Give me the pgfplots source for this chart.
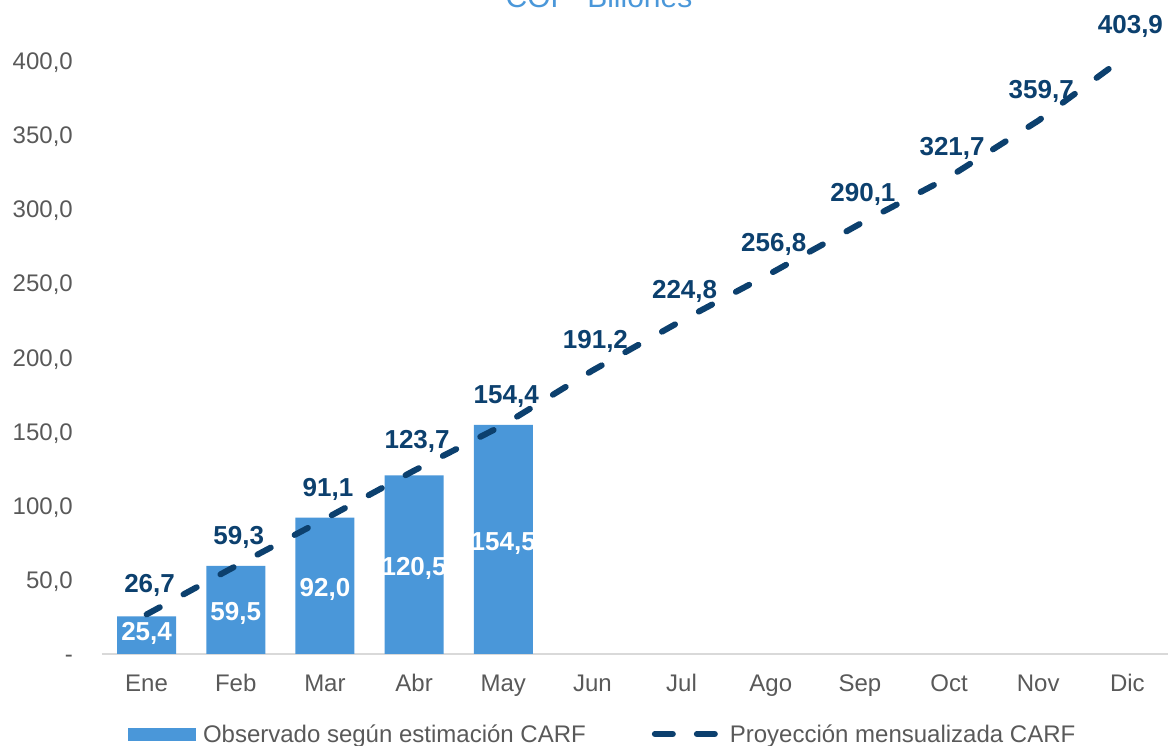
\documentclass[border=0pt]{standalone}
\usepackage{pgfplots}
\pgfplotsset{compat=1.18}
\usepackage{fontspec}
\setmainfont{Liberation Sans}
\definecolor{barblue}{HTML}{4A97D9}
\definecolor{navy}{HTML}{0C406E}
\definecolor{txtgray}{HTML}{595959}
\definecolor{axgray}{HTML}{D9D9D9}
\begin{document}
\begin{tikzpicture}
\path[use as bounding box] (0,0) rectangle (1168pt,746pt);
\begin{axis}[
  at={(102pt,92pt)}, anchor=south west,
  width=1070pt, height=622.65pt, scale only axis,
  xmin=-0.5, xmax=11.5, ymin=0, ymax=420,
  clip=false,
  axis lines=left,
  axis line style={-},
  x axis line style={axgray, line width=2pt},
  y axis line style={draw=none},
  major tick length=0pt,
  xtick={0,...,11},
  xticklabels={Ene,Feb,Mar,Abr,May,Jun,Jul,Ago,Sep,Oct,Nov,Dic},
  ytick={0,50,...,400},
  yticklabels={{-\hspace{13pt}},{50,0},{100,0},{150,0},{200,0},{250,0},{300,0},{350,0},{400,0}},
  ticklabel style={font=\fontsize{24}{28}\selectfont, text=txtgray, inner sep=0pt},
  xticklabel style={anchor=base, yshift=-38pt},
  yticklabel style={anchor=base east, yshift=-8.6pt, xshift=-29pt},
  legend columns=2,
  legend cell align=left,
  legend style={at={(axis description cs:0.0243,-0.1285)}, anchor=west, draw=none, fill=none,
    inner sep=0pt, outer sep=0pt, font=\fontsize{24}{28}\selectfont, text=txtgray,
    nodes={inner sep=0pt},
    /tikz/column 1/.style={column sep=7pt},
    /tikz/column 2/.style={column sep=66pt},
    /tikz/column 3/.style={column sep=12pt}},
  /pgf/number format/use comma,
  /pgf/number format/fixed,
  /pgf/number format/fixed zerofill,
  /pgf/number format/precision=1,
  /pgf/number format/1000 sep={},
  /pgf/number format/assume math mode=true,
]
\addplot[ybar, bar width=59pt, fill=barblue, draw=none,
  legend image code/.code={\fill[barblue] (0pt,-6.5pt) rectangle (68pt,6.5pt);},
  nodes near coords, visualization depends on={y \as \rawy},
  every node near coord/.append style={font=\bfseries\fontsize{26}{30}\selectfont, text=white,
    anchor=base, yshift={-(\rawy*1.4825 - max(\rawy*0.74125,24.5)) - 11}}]
  coordinates {(0,25.4)(1,59.5)(2,92.0)(3,120.5)(4,154.5)};
\addlegendentry{Observado según estimación CARF}
\addplot[navy, line width=6pt, line cap=round, dash pattern=on 15pt off 27pt, mark=none,
  legend image code/.code={\draw[navy, line width=6pt, line cap=round, dash pattern=on 18pt off 24pt] (3pt,0pt) -- (63pt,0pt); \path[draw=none, fill=none] (0pt,-7pt) rectangle (66pt,7pt);},
  nodes near coords,
  every node near coord/.append style={font=\bfseries\fontsize{26}{30}\selectfont, text=navy,
    anchor=base, yshift=22pt, xshift=3pt}]
  coordinates {(0,26.7)(1,59.3)(2,91.1)(3,123.7)(4,154.4)(5,191.2)(6,224.8)(7,256.8)(8,290.1)(9,321.7)(10,359.7)(11,403.9)};
\addlegendentry{Proyección mensualizada CARF}
\node[anchor=base, font=\fontsize{30}{36}\selectfont, text=barblue] at (axis description cs:0.4645,1.0375) {COP~~Billones};
\end{axis}
\end{tikzpicture}
\end{document}
